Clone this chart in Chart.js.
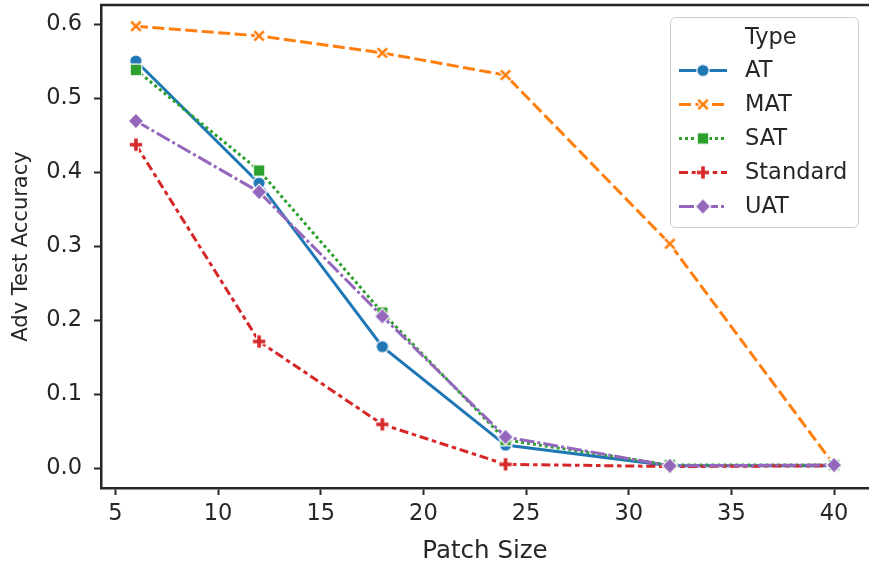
<!DOCTYPE html>
<html>
<head>
<meta charset="utf-8">
<script src="https://cdn.jsdelivr.net/npm/chart.js@4"></script>
<style>
  html, body { margin: 0; padding: 0; background: #fff; }
  canvas { display: block; }
</style>
</head>
<body>
<canvas id="myChart" width="869" height="569"></canvas>
<script>
// data
const patchSizes = [6, 12, 18, 24, 32, 40];
const seriesNames = ['AT', 'MAT', 'SAT', 'Standard', 'UAT'];
const atValues = [0.550, 0.385, 0.164, 0.031, 0.003, 0.003];
const matValues = [0.597, 0.584, 0.561, 0.531, 0.303, 0.004];
const satValues = [0.538, 0.402, 0.210, 0.038, 0.004, 0.004];
const standardValues = [0.437, 0.171, 0.059, 0.005, 0.002, 0.003];
const uatValues = [0.469, 0.373, 0.205, 0.042, 0.003, 0.004];
const xTicks = [5, 10, 15, 20, 25, 30, 35, 40];
const yTicks = [0.0, 0.1, 0.2, 0.3, 0.4, 0.5, 0.6];

const ink = '#262626';
const font = 'DejaVu Sans';
const lw = 3;

// marker images (circle, X, square, plus, diamond) with white edge
const makeMarker = (shape, color) => {
    const c = document.createElement('canvas');
    c.width = 20; c.height = 20;
    const g = c.getContext('2d');
    g.translate(10, 10);
    g.beginPath();
    if (shape === 'circle') {
        g.arc(0, 0, 6.2, 0, Math.PI * 2);
    } else if (shape === 'square') {
        g.rect(-5.8, -5.8, 11.6, 11.6);
    } else if (shape === 'diamond') {
        g.moveTo(0, -7.8); g.lineTo(7.8, 0); g.lineTo(0, 7.8); g.lineTo(-7.8, 0); g.closePath();
    } else if (shape === 'plus') {
        const a = 6.8, b = 2.4;
        g.moveTo(-b, -a); g.lineTo(b, -a); g.lineTo(b, -b); g.lineTo(a, -b); g.lineTo(a, b);
        g.lineTo(b, b); g.lineTo(b, a); g.lineTo(-b, a); g.lineTo(-b, b); g.lineTo(-a, b);
        g.lineTo(-a, -b); g.lineTo(-b, -b); g.closePath();
    } else if (shape === 'x') {
        const a = 6.5, b = 2.7;
        g.moveTo(0, -b); g.lineTo(a - b, -a); g.lineTo(a, -a + b); g.lineTo(b, 0); g.lineTo(a, a - b);
        g.lineTo(a - b, a); g.lineTo(0, b); g.lineTo(-a + b, a); g.lineTo(-a, a - b); g.lineTo(-b, 0);
        g.lineTo(-a, -a + b); g.lineTo(-a + b, -a); g.closePath();
    }
    g.fillStyle = color;
    g.fill();
    g.lineWidth = 1.2;
    g.strokeStyle = '#fff';
    g.stroke();
    return c;
};

const seriesValues = [atValues, matValues, satValues, standardValues, uatValues];
const colors = ['#1f77b4', '#ff7f0e', '#2ca02c', '#d62728', '#9467bd'];
const shapes = ['circle', 'x', 'square', 'plus', 'diamond'];
const dashes = [[], [4 * lw, 1.5 * lw], [lw, lw], [3 * lw, 1.25 * lw, 1.5 * lw, 1.25 * lw], [5 * lw, lw, lw, lw]];

const datasets = seriesNames.map((name, i) => ({
    label: name,
    data: patchSizes.map((x, j) => ({ x: x, y: seriesValues[i][j] })),
    borderColor: colors[i],
    backgroundColor: colors[i],
    borderWidth: lw,
    borderDash: dashes[i],
    borderCapStyle: 'butt',
    pointStyle: makeMarker(shapes[i], colors[i]),
    pointRadius: 6,
    pointHoverRadius: 6,
    tension: 0,
    order: seriesNames.length - i
}));

// top spine (right spine is off the canvas in the reference)
const frame = {
    id: 'frame',
    afterDatasetsDraw(chart) {
        const { ctx, chartArea } = chart;
        ctx.save();
        ctx.strokeStyle = ink;
        ctx.lineWidth = 2.5;
        ctx.beginPath();
        ctx.moveTo(chartArea.left - 1, chartArea.top);
        ctx.lineTo(chartArea.right + 10, chartArea.top);
        ctx.stroke();
        ctx.restore();
    }
};

// legend box like seaborn's, with line + marker handles
const boxLegend = {
    id: 'boxLegend',
    afterDraw(chart) {
        const ctx = chart.ctx;
        const bx = 670.5, by = 17.5, bw = 188, bh = 210, r = 5;
        ctx.save();
        ctx.beginPath();
        ctx.roundRect(bx, by, bw, bh, r);
        ctx.fillStyle = 'rgba(255,255,255,0.8)';
        ctx.fill();
        ctx.strokeStyle = '#cccccc';
        ctx.lineWidth = 1;
        ctx.stroke();

        ctx.font = '22.5px "' + font + '"';
        ctx.fillStyle = ink;
        ctx.textBaseline = 'middle';
        ctx.textAlign = 'left';
        ctx.fillText('Type', 745, 38);

        chart.data.datasets.forEach((ds, i) => {
            const y = 70.5 + i * 34;
            ctx.beginPath();
            ctx.setLineDash(ds.borderDash);
            ctx.lineCap = 'butt';
            ctx.strokeStyle = ds.borderColor;
            ctx.lineWidth = lw;
            ctx.moveTo(679, y);
            ctx.lineTo(727, y);
            ctx.stroke();
            ctx.setLineDash([]);
            const img = ds.pointStyle;
            ctx.drawImage(img, 703 - img.width / 2, y - img.height / 2);
            ctx.fillStyle = ink;
            ctx.fillText(ds.label, 745, y + 1);
        });
        ctx.restore();
    }
};

const noPad = (axis) => {
    axis.paddingLeft = 0;
    axis.paddingRight = 0;
    axis.paddingTop = 0;
    axis.paddingBottom = 0;
};

const createChart = () => {
    const ctx = document.getElementById('myChart');

    new Chart(ctx, {
        type: 'line',
        data: { datasets: datasets },
        options: {
            responsive: false,
            animation: false,
            devicePixelRatio: 1,
            layout: { autoPadding: false, padding: { top: 5, right: 0, left: 0, bottom: 0 } },
            plugins: {
                legend: { display: false },
                tooltip: { enabled: false }
            },
            scales: {
                x: {
                    type: 'linear',
                    min: 4.3,
                    max: 41.7,
                    afterBuildTicks: (axis) => { axis.ticks = xTicks.map(v => ({ value: v })); },
                    afterFit: (axis) => { axis.height = 81; noPad(axis); },
                    grid: { display: true, drawOnChartArea: false, drawTicks: true, tickLength: 7, tickWidth: 2, tickColor: ink },
                    border: { display: true, color: ink, width: 2.5 },
                    ticks: { color: ink, font: { family: font, size: 22.5 }, padding: 6, maxRotation: 0 },
                    title: { display: true, text: 'Patch Size', color: ink, font: { family: font, size: 24.5 }, padding: { top: 0, bottom: 3 } }
                },
                y: {
                    type: 'linear',
                    min: -0.027,
                    max: 0.6257,
                    afterBuildTicks: (axis) => { axis.ticks = yTicks.map(v => ({ value: v })); },
                    afterFit: (axis) => { axis.width = 101; noPad(axis); },
                    grid: { display: true, drawOnChartArea: false, drawTicks: true, tickLength: 7, tickWidth: 2, tickColor: ink },
                    border: { display: true, color: ink, width: 2.5 },
                    ticks: { color: ink, font: { family: font, size: 22.5 }, padding: 12, callback: (v) => v.toFixed(1) },
                    title: { display: true, text: 'Adv Test Accuracy', color: ink, font: { family: font, size: 21 }, padding: { top: 9, bottom: 0 } }
                }
            }
        },
        plugins: [frame, boxLegend]
    });
};

createChart();
</script>
</body>
</html>
